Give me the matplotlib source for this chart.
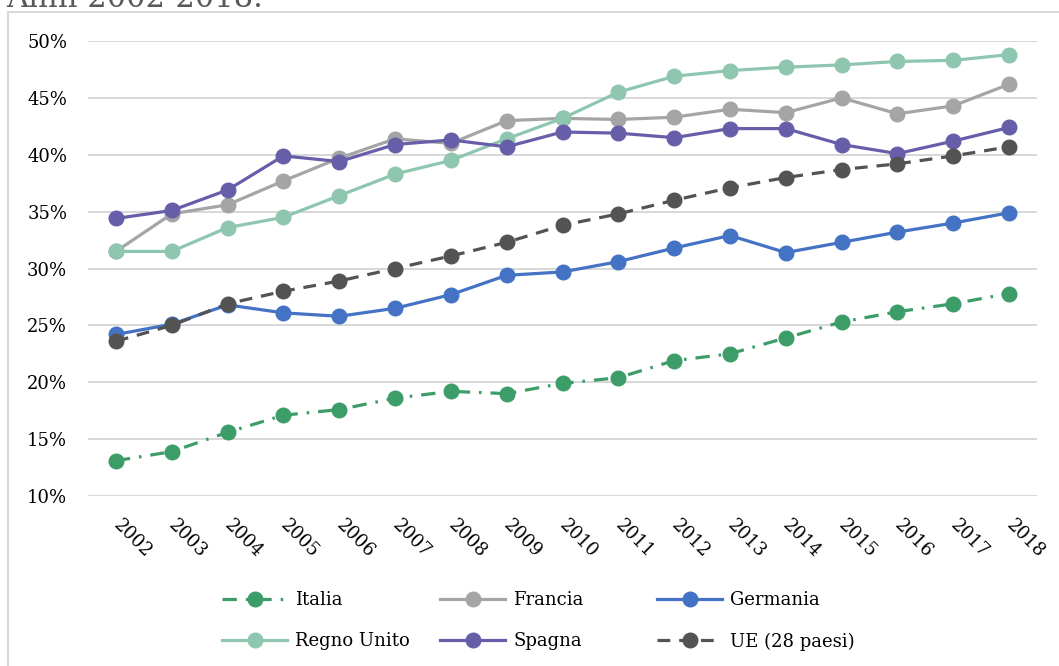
import matplotlib.pyplot as plt
import matplotlib.patches as patches
import matplotlib.ticker as mticker

plt.rcParams['font.family'] = ['DejaVu Serif']

anni = [str(a) for a in range(2002, 2019)]

italia = [13.1, 13.9, 15.6, 17.1, 17.6, 18.6, 19.2, 19.0, 19.9, 20.4, 21.9, 22.5, 23.9, 25.3, 26.2, 26.9, 27.8]
francia = [31.5, 34.8, 35.6, 37.7, 39.7, 41.4, 41.0, 43.0, 43.2, 43.1, 43.3, 44.0, 43.7, 45.0, 43.6, 44.3, 46.2]
germania = [24.2, 25.1, 26.8, 26.1, 25.8, 26.5, 27.7, 29.4, 29.7, 30.6, 31.8, 32.9, 31.4, 32.3, 33.2, 34.0, 34.9]
regno_unito = [31.5, 31.5, 33.6, 34.5, 36.4, 38.3, 39.5, 41.4, 43.2, 45.5, 46.9, 47.4, 47.7, 47.9, 48.2, 48.3, 48.8]
spagna = [34.4, 35.1, 36.9, 39.9, 39.4, 40.9, 41.3, 40.7, 42.0, 41.9, 41.5, 42.3, 42.3, 40.9, 40.1, 41.2, 42.4]
ue = [23.6, 25.0, 26.9, 28.0, 28.9, 30.0, 31.1, 32.3, 33.8, 34.8, 36.0, 37.1, 38.0, 38.7, 39.2, 39.9, 40.7]

fig = plt.figure(figsize=(10.59, 6.66), dpi=100)
ax = fig.add_axes([88 / 1059, 1 - 496 / 666, (1037 - 88) / 1059, (496 - 41) / 666])

x = list(range(len(anni)))
stile = dict(lw=2.3, marker='o', markersize=10.5)

l_it, = ax.plot(x, italia, color='#3C9D68', linestyle=(0, (4.5, 2.8, 0.8, 2.8)), label='Italia', **stile)
l_fr, = ax.plot(x, francia, color='#A5A5A5', label='Francia', **stile)
l_de, = ax.plot(x, germania, color='#4472C4', label='Germania', **stile)
l_uk, = ax.plot(x, regno_unito, color='#8FC6B0', label='Regno Unito', **stile)
l_es, = ax.plot(x, spagna, color='#675EAA', label='Spagna', **stile)
l_ue, = ax.plot(x, ue, color='#535353', linestyle=(0, (4, 2.8)), label='UE (28 paesi)', **stile)

ax.set_xlim(-0.5, len(anni) - 0.5)
ax.set_ylim(10, 50)
ax.yaxis.set_major_locator(mticker.MultipleLocator(5))
ax.yaxis.set_major_formatter(mticker.FuncFormatter(lambda v, p: f'{v:.0f}%'))
ax.grid(axis='y', color='#D4D4D4', lw=1.3)
ax.set_axisbelow(True)
for s in ax.spines.values():
    s.set_visible(False)

ax.set_xticks(x)
ax.set_xticklabels(anni, rotation=-45, rotation_mode='anchor', ha='left', va='center')
ax.tick_params(axis='x', length=0, pad=19, labelsize=13)
ax.tick_params(axis='y', length=0, pad=15, labelsize=13)

# legenda su tre colonne separate
colonne = [([l_it, l_uk], 222), ([l_fr, l_es], 440), ([l_de, l_ue], 657)]
for linee, xpos in colonne:
    leg = fig.legend(handles=linee, loc='upper left', bbox_to_anchor=(xpos / 1059, 1 - 591 / 666),
                     frameon=False, fontsize=13, handlelength=3.6, handletextpad=0.45,
                     labelspacing=1.3, borderaxespad=0, borderpad=0)

# cornice del grafico
cornice = patches.Rectangle((8 / 1059, -0.2), 1.2, 1 - 12 / 666 + 0.2, transform=fig.transFigure,
                            fill=False, edgecolor='#D9D9D9', lw=1.5)
fig.patches.append(cornice)

fig.text(6 / 1059, 1 - 7 / 666, 'Anni 2002-2018.', fontsize=22, color='#595959', va='baseline', ha='left')

fig.savefig('out.png', dpi=100)
